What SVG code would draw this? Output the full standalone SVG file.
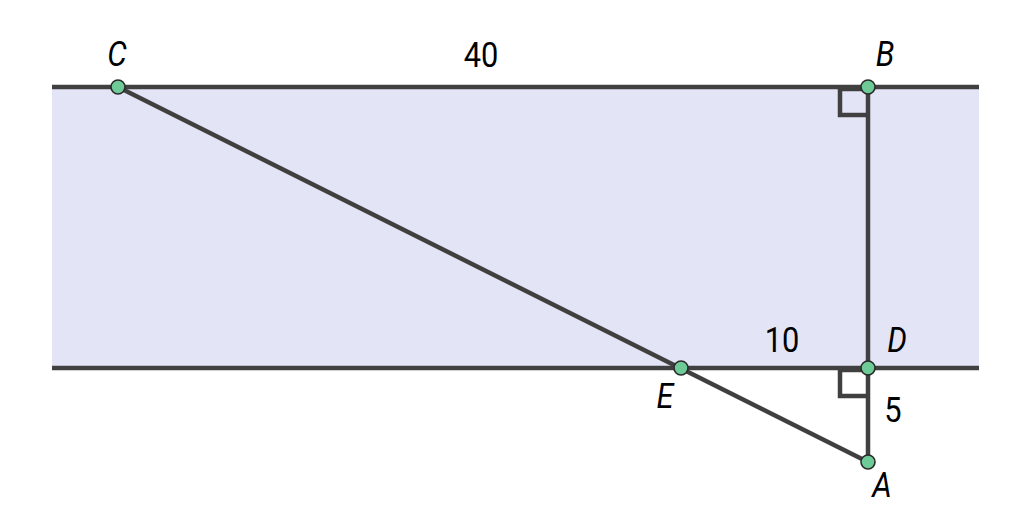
<svg xmlns="http://www.w3.org/2000/svg" width="1024" height="523" viewBox="0 0 1024 523">
<style>
.ln{stroke:#404040;stroke-width:4.5;fill:none;stroke-linecap:butt}
.sq{stroke:#404040;stroke-width:4.5;fill:none}
.pt{fill:#6ecb98;stroke:#2a2a2a;stroke-width:1.6}
.lb{font-family:Roboto,"Liberation Sans",sans-serif;font-size:35px;fill:#000;text-anchor:middle}
.it{font-style:italic}
</style>
<rect x="52" y="87" width="927" height="281" fill="#e4e4f7"/>
<g id="connectors">
<line class="ln" x1="52" y1="87" x2="979" y2="87"/>
<line class="ln" x1="52" y1="368" x2="979" y2="368"/>
<line class="ln" x1="118" y1="87" x2="868" y2="462"/>
<line class="ln" x1="868" y1="87" x2="868" y2="462"/>
<polyline class="sq" points="868,89 840,89 840,115 868,115"/>
<polyline class="sq" points="868,370 840,370 840,396 868,396"/>
</g>
<g id="labels">
<text class="lb" transform="translate(481,67) scale(0.88,1)">40</text>
<text class="lb" transform="translate(782,352) scale(0.88,1)">10</text>
<text class="lb" transform="translate(893,422) scale(0.88,1)">5</text>
</g>
<g id="C"><circle class="pt" cx="118" cy="87" r="7"/><text class="lb it" transform="translate(117,66) scale(0.88,1)">C</text></g>
<g id="B"><circle class="pt" cx="868" cy="87" r="7"/><text class="lb it" font-size="25" transform="translate(885,66) scale(0.88,1)">B</text></g>
<g id="D"><circle class="pt" cx="868" cy="368" r="7"/><text class="lb it" transform="translate(897,352) scale(0.88,1)">D</text></g>
<g id="E"><circle class="pt" cx="681" cy="368" r="7"/><text class="lb it" transform="translate(665,408) scale(0.88,1)">E</text></g>
<g id="A"><circle class="pt" cx="868" cy="462" r="7"/><text class="lb it" transform="translate(882,497) scale(0.88,1)">A</text></g>
</svg>
